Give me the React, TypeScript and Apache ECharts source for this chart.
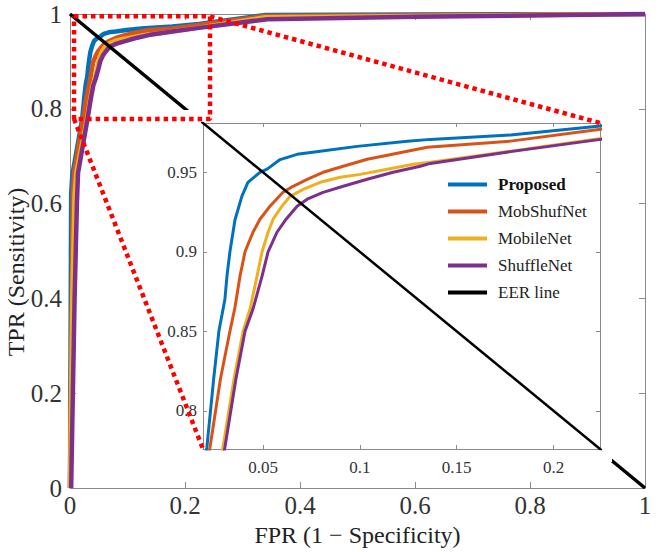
import React, { useEffect, useRef } from 'react';
import * as echarts from 'echarts';

// ---- data ----
const NAMES = ['Proposed', 'MobShufNet', 'MobileNet', 'ShuffleNet'];
const EER_NAME = 'EER line';

const PROPOSED: number[][] = [
  [0, 0], [0.001, 0.3], [0.002, 0.62], [0.004, 0.66], [0.021, 0.777], [0.0245, 0.82],
  [0.0272, 0.85], [0.0303, 0.87], [0.0314, 0.885], [0.0329, 0.9], [0.0355, 0.92],
  [0.0391, 0.935], [0.0422, 0.9437], [0.0484, 0.95], [0.0521, 0.952], [0.0588, 0.958],
  [0.0676, 0.9613], [0.0795, 0.9632], [0.0986, 0.9663], [0.1245, 0.9695], [0.1364, 0.9707],
  [0.1778, 0.9734], [0.2243, 0.9791], [0.34, 0.998], [0.6, 0.999], [1, 1],
];
const MOBSHUFNET: number[][] = [
  [0, 0], [0.003, 0.4], [0.005, 0.62], [0.007, 0.665], [0.0226, 0.777], [0.028, 0.82],
  [0.0329, 0.85], [0.0355, 0.865], [0.0381, 0.8847], [0.0407, 0.9], [0.0448, 0.9123],
  [0.0484, 0.9205], [0.0536, 0.9287], [0.0603, 0.9374], [0.0655, 0.9412], [0.0728, 0.9456],
  [0.081, 0.95], [0.0914, 0.9538], [0.1038, 0.9582], [0.1245, 0.9632], [0.1348, 0.9657],
  [0.1778, 0.9696], [0.2243, 0.977], [0.34, 0.996], [1, 1],
];
const MOBILENET: number[][] = [
  [0, 0], [0.004, 0.4], [0.008, 0.62], [0.011, 0.665], [0.0293, 0.777], [0.035, 0.82],
  [0.0397, 0.85], [0.0433, 0.864], [0.0469, 0.8847], [0.0495, 0.9], [0.0526, 0.9123],
  [0.0552, 0.9205], [0.0598, 0.9287], [0.064, 0.9349], [0.0707, 0.9393], [0.0795, 0.9437],
  [0.0898, 0.9469], [0.1002, 0.9487], [0.1141, 0.9519], [0.1276, 0.955], [0.1364, 0.9563],
  [0.1778, 0.9632], [0.2243, 0.9713], [0.34, 0.993], [1, 1],
];
const SHUFFLENET: number[][] = [
  [0.002, 0], [0.008, 0.4], [0.012, 0.6], [0.014, 0.665], [0.0303, 0.777], [0.036, 0.82],
  [0.0407, 0.85], [0.0448, 0.864], [0.0495, 0.8847], [0.0526, 0.9], [0.0572, 0.9123],
  [0.0619, 0.9205], [0.0676, 0.9287], [0.0728, 0.9331], [0.081, 0.9374], [0.0914, 0.9412],
  [0.1038, 0.9456], [0.1172, 0.95], [0.1312, 0.9538], [0.1364, 0.9556], [0.1778, 0.963],
  [0.2243, 0.9707], [0.343, 0.989], [0.6, 0.994], [1, 1],
];
const EER: number[][] = [[0, 1], [1, 0]];

const MAIN_TICKS_X = [0, 0.2, 0.4, 0.6, 0.8, 1];
const INSET_TICKS_X = [0.05, 0.1, 0.15, 0.2];
const INSET_TICKS_Y = [0.8, 0.85, 0.9, 0.95];
const INSET_X = [0.019, 0.224];
const INSET_Y = [0.776, 0.981];
const ZOOM_X = [0.007, 0.2435];
const ZOOM_Y = [0.7785, 0.995];

const COLORS = ['#0072BD', '#D95319', '#EDB120', '#7E2F8E'];
const FONT = "'Liberation Serif','Times New Roman',serif";
const AXIS_GRAY = '#8a8a8a';
const LABEL = '#333333';
const RED = '#ff0000';

export default function App() {
  const ref = useRef<HTMLDivElement>(null);

  useEffect(() => {
    const chart = echarts.init(ref.current!, null, { renderer: 'svg' });
    const curves = [PROPOSED, MOBSHUFNET, MOBILENET, SHUFFLENET];

    const axisBase = (extra: any) => ({
      type: 'value',
      splitLine: { show: false },
      axisLine: { show: true, onZero: false, lineStyle: { color: AXIS_GRAY, width: 1 } },
      axisTick: { show: true, inside: true, length: 6, lineStyle: { color: AXIS_GRAY } },
      ...extra,
    });

    const mainSeries = curves.map((d, i) => ({
      type: 'line', name: NAMES[i], xAxisIndex: 0, yAxisIndex: 0, data: d,
      symbol: 'none', showSymbol: false, z: 2,
      lineStyle: { color: COLORS[i], width: 4.5 }, itemStyle: { color: COLORS[i] },
    }));
    const insetSeries = curves.map((d, i) => ({
      type: 'line', name: NAMES[i], xAxisIndex: 2, yAxisIndex: 2, data: d,
      symbol: 'none', showSymbol: false, z: 7,
      lineStyle: { color: COLORS[i], width: 3 }, itemStyle: { color: COLORS[i] },
    }));

    const option: any = {
      animation: false,
      backgroundColor: '#ffffff',
      textStyle: { fontFamily: FONT },
      grid: [
        { left: 70, right: 21, top: 14, bottom: 64, containLabel: false },
        { left: 203, right: 66, top: 123, bottom: 103, containLabel: false, show: false },
      ],
      xAxis: [
        axisBase({
          gridIndex: 0, position: 'bottom', min: 0, max: 1, interval: 0.2,
          axisLabel: { fontSize: 25, color: LABEL, fontFamily: FONT, margin: 5,
            customValues: MAIN_TICKS_X, formatter: (v: number) => String(+v.toFixed(2)) },
          axisTick: { show: true, inside: true, length: 6, lineStyle: { color: AXIS_GRAY }, customValues: MAIN_TICKS_X },
          name: 'FPR (1 \u2212 Specificity)', nameLocation: 'middle', nameGap: 28,
          nameTextStyle: { fontSize: 24, color: '#222', fontFamily: FONT },
        }),
        axisBase({
          gridIndex: 0, position: 'top', min: 0, max: 1, interval: 0.2,
          axisLabel: { show: false },
        }),
        axisBase({
          gridIndex: 1, position: 'bottom', min: INSET_X[0], max: INSET_X[1], z: 6,
          axisLabel: { fontSize: 17, color: LABEL, fontFamily: FONT, margin: 10,
            customValues: INSET_TICKS_X, formatter: (v: number) => String(+v.toFixed(3)) },
          axisTick: { show: true, inside: true, length: 4, lineStyle: { color: AXIS_GRAY }, customValues: INSET_TICKS_X },
        }),
        axisBase({
          gridIndex: 1, position: 'top', min: INSET_X[0], max: INSET_X[1], z: 6,
          axisLabel: { show: false },
          axisTick: { show: true, inside: true, length: 4, lineStyle: { color: AXIS_GRAY }, customValues: INSET_TICKS_X },
        }),
      ],
      yAxis: [
        axisBase({
          gridIndex: 0, position: 'left', min: 0, max: 1, interval: 0.2,
          axisLabel: { fontSize: 25, color: LABEL, fontFamily: FONT, margin: 8,
            formatter: (v: number) => String(+v.toFixed(2)) },
        }),
        axisBase({
          gridIndex: 0, position: 'right', min: 0, max: 1, interval: 0.2,
          axisLabel: { show: false },
        }),
        axisBase({
          gridIndex: 1, position: 'left', min: INSET_Y[0], max: INSET_Y[1], z: 6,
          axisLabel: { fontSize: 17, color: LABEL, fontFamily: FONT, margin: 6,
            customValues: INSET_TICKS_Y, formatter: (v: number) => String(+v.toFixed(3)) },
          axisTick: { show: true, inside: true, length: 4, lineStyle: { color: AXIS_GRAY }, customValues: INSET_TICKS_Y },
        }),
        axisBase({
          gridIndex: 1, position: 'right', min: INSET_Y[0], max: INSET_Y[1], z: 6,
          axisLabel: { show: false },
          axisTick: { show: true, inside: true, length: 4, lineStyle: { color: AXIS_GRAY }, customValues: INSET_TICKS_Y },
        }),
      ],
      legend: {
        data: [...NAMES, EER_NAME],
        orient: 'vertical', left: 443, top: 171, itemWidth: 39, itemHeight: 4, itemGap: 10,
        icon: 'rect', selectedMode: false, z: 8,
        textStyle: {
          fontFamily: FONT, fontSize: 17, color: '#222', padding: [0, 0, 0, 6],
          rich: {
            b: { fontWeight: 'bold', fontSize: 17, fontFamily: FONT, color: '#111' },
            n: { fontSize: 17, fontFamily: FONT, color: '#222' },
          },
        },
        formatter: (name: string) => (name === 'Proposed' ? `{b|${name}}` : `{n|${name}}`),
      },
      series: [
        ...mainSeries,
        {
          type: 'line', name: EER_NAME, xAxisIndex: 0, yAxisIndex: 0, data: EER, symbol: 'none', z: 3,
          lineStyle: { color: '#000', width: 3.5 }, itemStyle: { color: '#000' },
        },
        ...insetSeries,
        {
          type: 'line', name: EER_NAME, xAxisIndex: 2, yAxisIndex: 2, data: EER, symbol: 'none', z: 7,
          lineStyle: { color: '#000', width: 2.5 }, itemStyle: { color: '#000' },
        },
        {
          type: 'line', name: 'zoom', xAxisIndex: 0, yAxisIndex: 0, symbol: 'none', z: 12, clip: false,
          data: [
            [ZOOM_X[0], ZOOM_Y[1]], [ZOOM_X[1], ZOOM_Y[1]], [ZOOM_X[1], ZOOM_Y[0]],
            [ZOOM_X[0], ZOOM_Y[0]], [ZOOM_X[0], ZOOM_Y[1]],
          ],
          lineStyle: { color: RED, width: 4.5, type: [4.5, 4], cap: 'butt' },
          itemStyle: { color: RED },
        },
      ],
    };
    chart.setOption(option);

    // inset white backdrop and connector lines, positioned from the axes' own scales
    const g0 = (v: number[]) => chart.convertToPixel({ gridIndex: 0 } as any, v) as number[];
    const g1 = (v: number[]) => chart.convertToPixel({ gridIndex: 1 } as any, v) as number[];
    const insetTL = g1([INSET_X[0], INSET_Y[1]]);
    const insetBR = g1([INSET_X[1], INSET_Y[0]]);
    const insetTR = g1([INSET_X[1], INSET_Y[1]]);
    const insetBL = g1([INSET_X[0], INSET_Y[0]]);
    const zoomTR = g0([ZOOM_X[1], ZOOM_Y[1]]);
    const zoomBL = g0([ZOOM_X[0], ZOOM_Y[0]]);
    const dash = { stroke: RED, lineWidth: 4.5, lineDash: [4.5, 4] };

    chart.setOption({
      graphic: [
        {
          type: 'rect', z: 5, silent: true,
          shape: {
            x: insetTL[0] - 63, y: insetTL[1] - 13,
            width: insetBR[0] - insetTL[0] + 75, height: insetBR[1] - insetTL[1] + 26,
          },
          style: { fill: '#ffffff' },
        },
        {
          type: 'line', z: 12, silent: true,
          shape: { x1: zoomTR[0], y1: zoomTR[1], x2: insetTR[0], y2: insetTR[1] },
          style: dash,
        },
        {
          type: 'line', z: 12, silent: true,
          shape: { x1: zoomBL[0], y1: zoomBL[1], x2: insetBL[0], y2: insetBL[1] },
          style: dash,
        },
        {
          type: 'text', z: 12, silent: true, x: 16, y: 272, rotation: Math.PI / 2,
          style: {
            text: 'TPR (Sensitivity)', fontSize: 24, fontFamily: FONT, fill: '#222',
            align: 'center', verticalAlign: 'middle',
          },
        },
      ],
    });

    return () => chart.dispose();
  }, []);

  return (
    <div
      ref={ref}
      style={{ position: 'fixed', left: 0, top: 0, width: 666, height: 552, background: '#fff' }}
    />
  );
}
